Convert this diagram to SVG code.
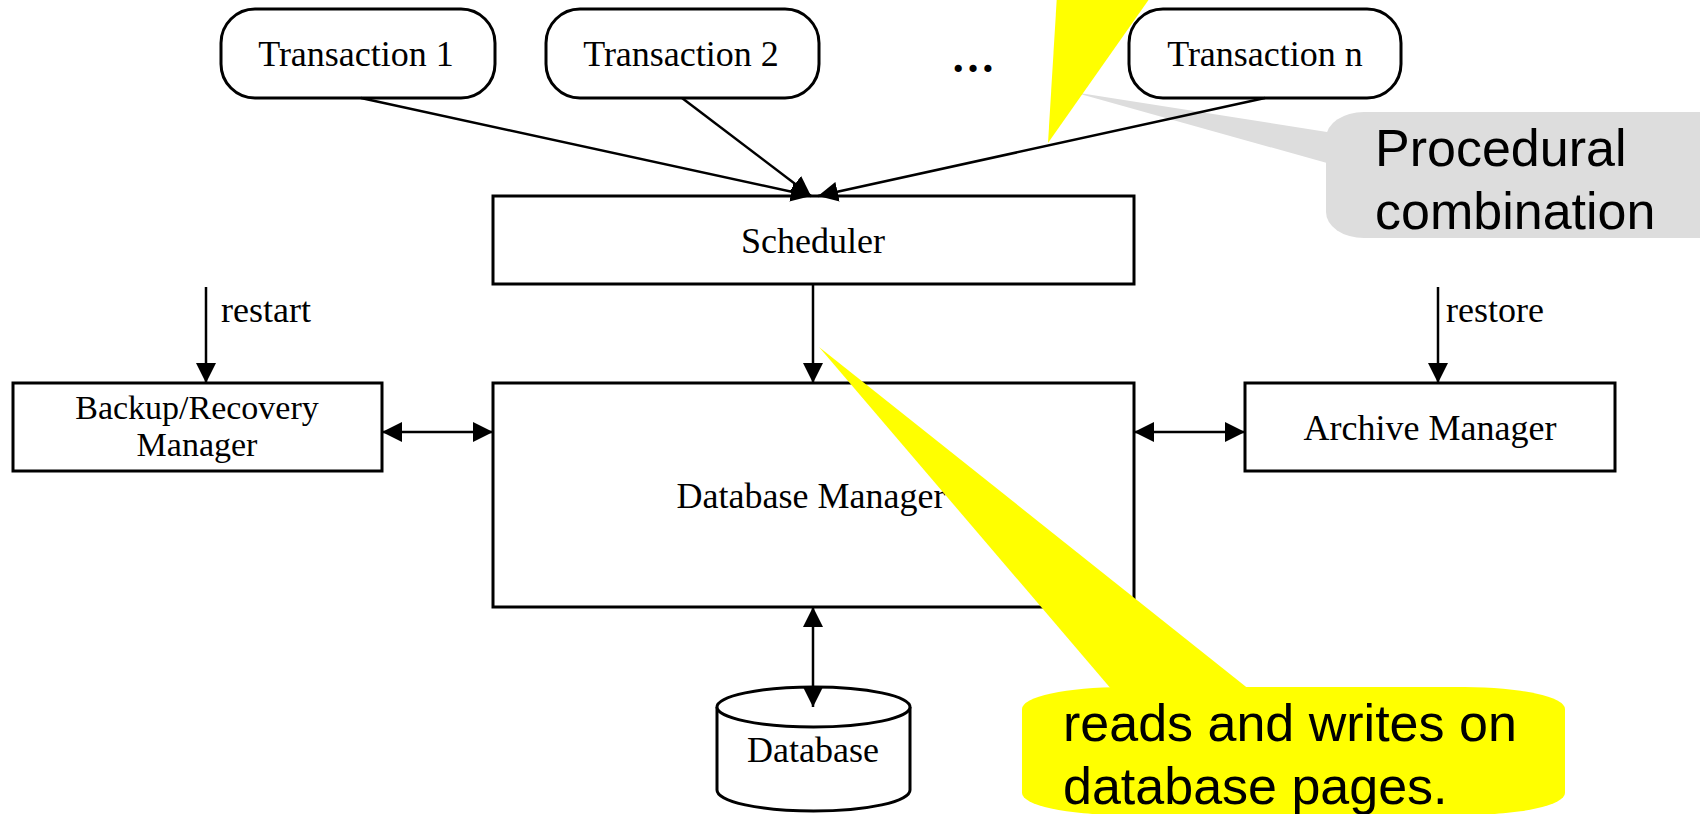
<svg xmlns="http://www.w3.org/2000/svg" width="1700" height="814" viewBox="0 0 1700 814">
  <defs>
    <marker id="arrow" markerUnits="userSpaceOnUse" markerWidth="20" markerHeight="20" refX="20" refY="10" orient="auto-start-reverse" viewBox="0 0 20 20">
      <path d="M0,0 L20,10 L0,20 z" fill="#000"/>
    </marker>
    <style>
      .box { fill: #fff; stroke: #000; stroke-width: 3; }
      .lbl { font-family: "Liberation Serif", "Times New Roman", serif; font-size: 36px; fill: #000; text-anchor: middle; }
      .lbl2 { font-family: "Liberation Serif", "Times New Roman", serif; font-size: 34px; fill: #000; text-anchor: middle; }
      .side { font-family: "Liberation Serif", "Times New Roman", serif; font-size: 36px; fill: #000; }
      .conn line, .conn path { stroke: #000; stroke-width: 2.5; fill: none; }
      .note { font-family: "Liberation Sans", Arial, sans-serif; font-size: 52px; fill: #000; }
    </style>
  </defs>

  <rect width="1700" height="814" fill="#fff"/>

  <!-- grey annotation on the transaction inputs -->
  <g id="note-procedural">
    <path d="M1073,92 L1327,132 L1327,163 z" fill="#dddddd"/>
    <rect x="1326" y="112" width="410" height="126" rx="38" ry="26" fill="#dddddd"/>
    <text class="note" x="1375" y="166">Procedural</text>
    <text class="note" x="1375" y="229">combination</text>
  </g>

  <!-- transactions -->
  <g id="t1">
    <rect class="box" x="221" y="9" width="274" height="89" rx="34" ry="34"/>
    <text class="lbl" x="356" y="66">Transaction 1</text>
  </g>
  <g id="t2">
    <rect class="box" x="546" y="9" width="273" height="89" rx="34" ry="34"/>
    <text class="lbl" x="681" y="66">Transaction 2</text>
  </g>
  <g id="tdots">
    <text x="973" y="72" text-anchor="middle" font-family="Liberation Serif, serif" font-size="44" font-weight="bold">…</text>
  </g>
  <g id="tn">
    <rect class="box" x="1129" y="9" width="272" height="89" rx="34" ry="34"/>
    <text class="lbl" x="1265" y="66">Transaction n</text>
  </g>

  <!-- scheduler -->
  <g id="scheduler">
    <rect class="box" x="493" y="196" width="641" height="88"/>
    <text class="lbl" x="813" y="253">Scheduler</text>
  </g>

  <!-- database manager -->
  <g id="dbm">
    <rect class="box" x="493" y="383" width="641" height="224"/>
    <text class="lbl" x="811" y="508">Database Manager</text>
  </g>

  <!-- backup / recovery manager -->
  <g id="brm">
    <rect class="box" x="13" y="383" width="369" height="88"/>
    <text class="lbl2" x="197" y="419">Backup/Recovery</text>
    <text class="lbl2" x="197" y="456">Manager</text>
  </g>

  <!-- archive manager -->
  <g id="am">
    <rect class="box" x="1245" y="383" width="370" height="88"/>
    <text class="lbl" x="1430" y="440">Archive Manager</text>
  </g>

  <!-- database cylinder -->
  <g id="db">
    <path d="M717,707 L717,790 A96.5,21 0 0 0 910,790 L910,707" fill="#fff" stroke="#000" stroke-width="3"/>
    <ellipse cx="813.5" cy="707" rx="96.5" ry="20" fill="#fff" stroke="#000" stroke-width="3"/>
    <text class="lbl" x="813" y="762">Database</text>
  </g>

  <!-- connectors -->
  <g id="connectors" class="conn">
    <line x1="361" y1="98" x2="811" y2="196" marker-end="url(#arrow)"/>
    <line x1="682" y1="98" x2="811" y2="196" marker-end="url(#arrow)"/>
    <line x1="1265" y1="98" x2="818" y2="196" marker-end="url(#arrow)"/>
    <line x1="813" y1="284" x2="813" y2="383" marker-end="url(#arrow)"/>
    <line x1="206" y1="287" x2="206" y2="383" marker-end="url(#arrow)"/>
    <line x1="1438" y1="287" x2="1438" y2="383" marker-end="url(#arrow)"/>
    <line x1="382" y1="432" x2="493" y2="432" marker-start="url(#arrow)" marker-end="url(#arrow)"/>
    <line x1="1134" y1="432" x2="1245" y2="432" marker-start="url(#arrow)" marker-end="url(#arrow)"/>
    <line x1="813" y1="607" x2="813" y2="707" marker-start="url(#arrow)" marker-end="url(#arrow)"/>
    <text class="side" x="221" y="322">restart</text>
    <text class="side" x="1446" y="322">restore</text>
  </g>

  <!-- yellow annotations -->
  <g id="note-top">
    <path d="M1057,-5 L1152,-5 L1048,143 z" fill="#ffff00"/>
  </g>
  <g id="note-pages">
    <path d="M819,347 L1112,690 L1250,690 z" fill="#ffff00"/>
    <rect x="1022" y="687" width="543" height="128" rx="100" ry="22" fill="#ffff00"/>
    <text class="note" x="1063" y="741">reads and writes on</text>
    <text class="note" x="1063" y="804">database pages.</text>
  </g>
</svg>
